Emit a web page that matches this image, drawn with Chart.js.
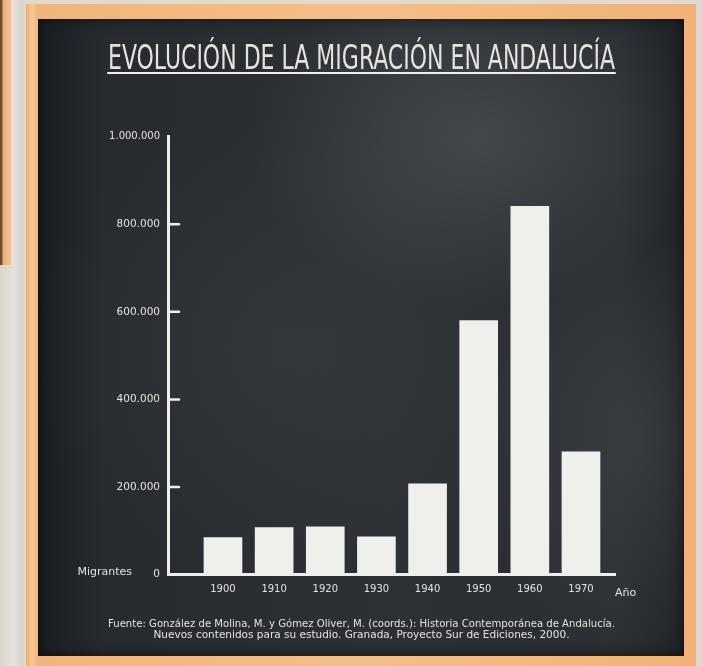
<!DOCTYPE html>
<html>
<head>
<meta charset="utf-8">
<script src="https://cdn.jsdelivr.net/npm/chart.js@4.4.1/dist/chart.umd.min.js"></script>
<style>
  html, body { margin: 0; padding: 0; }
  body { width: 702px; height: 666px; overflow: hidden; position: relative;
         background: linear-gradient(90deg, #d9d6cc 0, #e4e2da 14px, #d6d4cc 22px, #dcdad2 26px); }
  #strip { position: absolute; left: 0; top: 0; width: 11px; height: 265px;
           background: linear-gradient(90deg, #6e4c31 0, #6e4c31 2px, #e6ad76 3px, #f3c596 11px); }
  #frame { position: absolute; left: 26px; top: 4px; width: 670px; height: 680px;
           background: linear-gradient(90deg, #eeae72 0, #f5c894 6px, #f0b57c 12px, #f3bf88 50%, #f0b277 100%); }
  #board { position: absolute; left: 38px; top: 19px; width: 646px; height: 637px;
           background:
             radial-gradient(ellipse 230px 170px at 440px 120px, rgba(95,101,107,0.45), rgba(95,101,107,0)),
             radial-gradient(ellipse 160px 240px at 600px 420px, rgba(85,91,97,0.35), rgba(85,91,97,0)),
             radial-gradient(ellipse 260px 230px at 250px 330px, rgba(70,75,80,0.30), rgba(70,75,80,0)),
             linear-gradient(90deg, #1a1e22 0%, #272b2f 10%, #2d3135 55%, #2a2e32 90%, #1f2327 100%);
           box-shadow: inset 0 0 14px rgba(0,0,0,0.6); }
  #c { position: absolute; left: 0; top: 0; }
</style>
</head>
<body>
<div id="strip"></div>
<div id="frame"></div>
<div id="board"></div>
<canvas id="c" width="702" height="666"></canvas>
<script>
const years = ['1900', '1910', '1920', '1930', '1940', '1950', '1960', '1970'];
const migrantes = [84000, 107000, 109000, 86000, 207000, 580000, 841000, 280000];
const yMarks = [200000, 400000, 600000, 800000];
const yMax = 1000000;
const yStep = 200000;
const titulo = 'EVOLUCIÓN DE LA MIGRACIÓN EN ANDALUCÍA';
const fuente = [
  'Fuente: González de Molina, M. y Gómez Oliver, M. (coords.): Historia Contemporánea de Andalucía.',
  'Nuevos contenidos para su estudio. Granada, Proyecto Sur de Ediciones, 2000.'
];
const ejeY = 'Migrantes';
const ejeX = 'Año';

const chalk = '#efefec';
const chalkText = '#e2e2e0';

// 1000000 -> "1.000.000"
function puntos(n) {
  return String(n).replace(/\B(?=(\d{3})+(?!\d))/g, '.');
}

// tick marks inside the axis, axis names, title underline
const chalkExtras = {
  id: 'chalkExtras',
  afterDraw(chart) {
    const { ctx, chartArea, scales } = chart;
    ctx.save();
    ctx.strokeStyle = chalk;
    ctx.lineWidth = 2.5;
    ctx.lineCap = 'round';
    yMarks.forEach(v => {
      const py = scales.y.getPixelForValue(v);
      ctx.beginPath();
      ctx.moveTo(chartArea.left + 1, py);
      ctx.lineTo(chartArea.left + 11, py);
      ctx.stroke();
    });

    const tb = chart.titleBlock;
    ctx.lineWidth = 2;
    ctx.beginPath();
    ctx.moveTo(tb.left, tb.top + 33);
    ctx.lineTo(tb.right, tb.top + 33);
    ctx.stroke();

    ctx.fillStyle = chalkText;
    ctx.font = '11px "DejaVu Sans"';
    ctx.textBaseline = 'middle';
    ctx.textAlign = 'right';
    ctx.fillText(ejeY, 132, scales.y.getPixelForValue(0) - 2);
    ctx.textAlign = 'left';
    ctx.fillText(ejeX, chartArea.right + 0, chartArea.bottom + 19);
    ctx.restore();
  }
};

new Chart(document.getElementById('c'), {
  type: 'bar',
  data: {
    datasets: [{
      label: ejeY,
      data: migrantes.map((v, i) => ({ x: i, y: v })),
      backgroundColor: chalk,
      borderWidth: 0,
      barThickness: 38
    }]
  },
  options: {
    responsive: false,
    animation: false,
    layout: { padding: { top: 40, left: 108, right: 87, bottom: 25 } },
    plugins: {
      legend: { display: false },
      tooltip: { enabled: false },
      title: {
        display: true,
        text: titulo,
        color: chalkText,
        font: { family: '"Liberation Sans Narrow", "DejaVu Sans Condensed", "Arial Narrow", sans-serif', size: 34, weight: 'normal', lineHeight: 1.2 },
        padding: { top: 0, bottom: 56 }
      },
      subtitle: {
        display: true,
        position: 'bottom',
        text: fuente,
        color: chalkText,
        font: { family: '"DejaVu Sans"', size: 10.5, lineHeight: 1.05 },
        padding: { top: 14.5, bottom: 0 }
      }
    },
    scales: {
      x: {
        type: 'linear',
        offset: false,
        min: -1.075,
        max: 7.665,
        afterFit: s => { s.height = 30; },
        grid: { offset: false, drawOnChartArea: false, drawTicks: false },
        border: { display: true, color: chalk, width: 3 },
        ticks: {
          stepSize: 1,
          includeBounds: false,
          autoSkip: false,
          maxRotation: 0,
          padding: 9,
          color: chalkText,
          font: { family: '"DejaVu Sans"', size: 10 },
          callback: v => (Number.isInteger(v) && years[v]) ? years[v] : ''
        }
      },
      y: {
        min: 0,
        max: yMax,
        afterFit: s => { s.width = 60; },
        grid: { drawOnChartArea: false, drawTicks: false },
        border: { display: true, color: chalk, width: 3 },
        ticks: {
          stepSize: yStep,
          padding: 8,
          color: chalkText,
          font: c => ({ family: '"DejaVu Sans"', size: c.tick && c.tick.value === yMax ? 10 : 10.5 }),
          callback: v => puntos(v)
        }
      }
    }
  },
  plugins: [chalkExtras]
});
</script>
</body>
</html>
